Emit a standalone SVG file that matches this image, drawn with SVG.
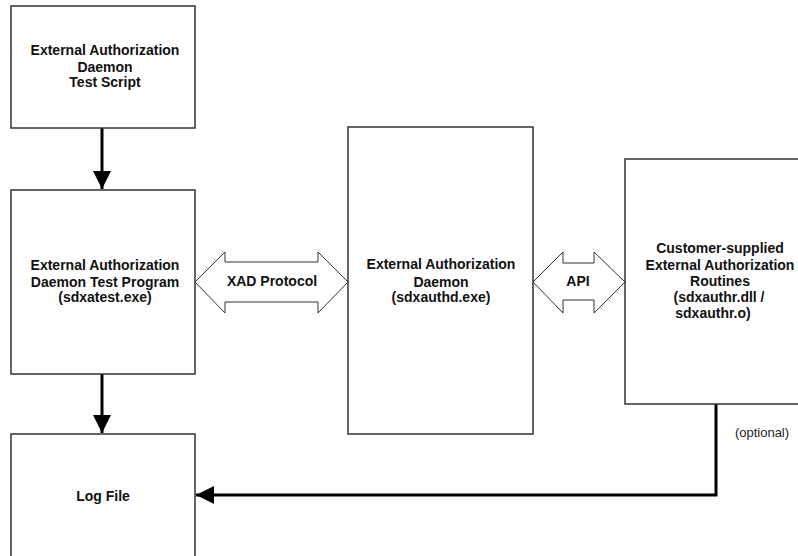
<svg xmlns="http://www.w3.org/2000/svg" width="798" height="556" viewBox="0 0 798 556">
<defs>
<style>
.box{fill:#fff;stroke:#333;stroke-width:1.5}
.t{font-family:"Liberation Sans",Arial,sans-serif;font-size:14px;font-weight:bold;fill:#111;text-anchor:middle}
.n{font-family:"Liberation Sans",Arial,sans-serif;font-size:13px;fill:#222;text-anchor:middle}
.con{fill:none;stroke:#000;stroke-width:3}
.dbl{fill:#fff;stroke:#333;stroke-width:1}
</style>
<marker id="ah" markerWidth="6" markerHeight="6" viewBox="0 0 16 16" refX="16" refY="8" orient="auto" markerUnits="strokeWidth">
<path d="M0,0 L16,8 L0,16 Z" fill="#000"/>
</marker>
</defs>
<rect width="798" height="556" fill="#fff"/>
<g id="connectors">
<line class="con" x1="102" y1="128" x2="102" y2="189" marker-end="url(#ah)"/>
<line class="con" x1="102" y1="374" x2="102" y2="433" marker-end="url(#ah)"/>
<polyline class="con" points="716,404 716,495 196,495" marker-end="url(#ah)"/>
<polygon id="xad" class="dbl" points="195,282 225,252 225,262 318,262 318,252 348,282 318,313 318,302 225,302 225,313"/>
<text class="t" x="272" y="286">XAD Protocol</text>
<polygon id="api" class="dbl" points="533,282 563,252 563,263 594,263 594,252 625,282 594,313 594,300 563,300 563,313"/>
<text class="t" x="578" y="286">API</text>
<text class="n" x="762" y="437">(optional)</text>
</g>
<g id="script">
<rect class="box" x="11" y="6" width="184" height="122"/>
<text class="t" x="105" y="55">External Authorization</text>
<text class="t" x="105" y="72">Daemon</text>
<text class="t" x="105" y="87">Test Script</text>
</g>
<g id="testprog">
<rect class="box" x="11" y="190" width="184" height="184"/>
<text class="t" x="105" y="270">External Authorization</text>
<text class="t" x="105" y="287">Daemon Test Program</text>
<text class="t" x="105" y="302">(sdxatest.exe)</text>
</g>
<g id="logfile">
<rect class="box" x="11" y="434" width="184" height="130"/>
<text class="t" x="103" y="501">Log File</text>
</g>
<g id="daemon">
<rect class="box" x="348" y="127" width="185" height="307"/>
<text class="t" x="441" y="269">External Authorization</text>
<text class="t" x="441" y="287">Daemon</text>
<text class="t" x="441" y="302">(sdxauthd.exe)</text>
</g>
<g id="routines">
<rect class="box" x="625" y="159" width="200" height="245"/>
<text class="t" x="720" y="253">Customer-supplied</text>
<text class="t" x="720" y="270">External Authorization</text>
<text class="t" x="720" y="286">Routines</text>
<text class="t" x="719" y="302">(sdxauthr.dll /</text>
<text class="t" x="713" y="318">sdxauthr.o)</text>
</g>
</svg>
